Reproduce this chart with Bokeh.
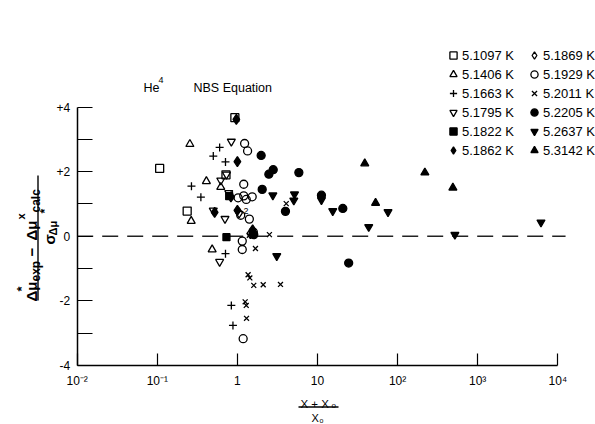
import math
from bokeh.plotting import figure
from bokeh.models import Range1d, FixedTicker, Label, Legend, LegendItem, Arrow
from bokeh.embed import file_html
from bokeh.resources import INLINE

FONT = "Liberation Sans"

# ---------------- data ----------------
x_ticks = [0.01, 0.1, 1, 10, 100, 1000, 10000]
x_tick_labels = ["10\u207b\u00b2", "10\u207b\u00b9", "1", "10", "10\u00b2", "10\u00b3", "10\u2074"]
y_ticks = [-4, -2, 0, 2, 4]
y_minor = [-3, -1, 1, 3]
y_tick_labels = ["-4", "-2", "0", "+2", "+4"]

# dashed zero reference line
zero_x = [0.01, 12500]
zero_y = [0, 0]

temps = ["5.1097 K", "5.1406 K", "5.1663 K", "5.1795 K", "5.1822 K", "5.1862 K",
         "5.1869 K", "5.1929 K", "5.2011 K", "5.2205 K", "5.2637 K", "5.3142 K"]

x_51097 = [0.107, 0.93, 0.72, 0.236]
y_51097 = [2.10, 3.67, 1.90, 0.78]

x_51406 = [0.255, 0.41, 0.62, 0.265, 0.484]
y_51406 = [2.85, 1.70, 1.52, 0.47, -0.41]

x_51663 = [0.60, 0.50, 0.71, 0.267, 0.35, 0.71, 0.84, 0.88]
y_51663 = [2.75, 2.48, 2.30, 1.55, 1.21, -0.54, -2.14, -2.76]

x_51795 = [0.84, 0.73, 0.62, 0.78, 0.50, 0.70, 0.60]
y_51795 = [2.93, 1.91, 1.73, 1.34, 0.80, 0.54, -0.79]

x_51822 = [0.73, 0.79]
y_51822 = [-0.03, 1.24]

x_51862 = [0.97, 1.0, 0.83, 0.52, 1.0, 1.55]
y_51862 = [3.62, 2.31, 1.22, 0.74, 0.80, 0.20]

x_51869 = [1.05, 1.45]
y_51869 = [0.72, 0.08]

x_51929 = [1.23, 1.34, 1.20, 1.02, 1.20, 1.29, 1.53, 1.10, 1.41, 1.58, 1.15, 1.15, 1.18]
y_51929 = [2.87, 2.64, 1.61, 1.19, 1.25, 1.14, 1.22, 0.65, 0.53, 0.13, -0.15, -0.41, -3.17]

x_52011 = [1.41, 2.51, 1.68, 1.36, 1.43, 1.60, 2.10, 3.45, 1.25, 1.29, 1.30, 4.07]
y_52011 = [0.03, 0.05, -0.38, -1.19, -1.29, -1.52, -1.50, -1.49, -2.03, -2.14, -2.54, 1.01]

x_52205 = [1.98, 2.47, 2.80, 5.85, 2.04, 3.98, 11.2, 20.7, 24.5, 1.60]
y_52205 = [2.50, 1.92, 2.06, 1.97, 1.45, 0.77, 1.27, 0.86, -0.83, 0.05]

x_52637 = [2.77, 5.16, 5.06, 11.2, 15.5, 75.9, 43.6, 519, 6166, 3.1]
y_52637 = [1.27, 1.30, 1.11, 1.12, 0.78, 0.75, 0.29, 0.05, 0.43, -0.61]

x_53142 = [38.9, 53.1, 219, 490]
y_53142 = [2.25, 1.03, 1.97, 1.50]

xs = [x_51097, x_51406, x_51663, x_51795, x_51822, x_51862,
      x_51869, x_51929, x_52011, x_52205, x_52637, x_53142]
ys = [y_51097, y_51406, y_51663, y_51795, y_51822, y_51862,
      y_51869, y_51929, y_52011, y_52205, y_52637, y_53142]

# marker style per series: (marker, filled, size)
styles = [("square", False, 8), ("triangle", False, 8), ("cross", False, 8),
          ("inverted_triangle", False, 8), ("square", True, 7), ("diamond", True, 10),
          ("diamond", False, 10), ("circle", False, 8), ("x", False, 7),
          ("circle", True, 8), ("inverted_triangle", True, 8), ("triangle", True, 8)]

# ---------------- figure (frame = whole page; axes pinned inside) ----------------
W, H = 595, 424
X_LO, X_HI = 10 ** -2.9576, 10 ** 4.4707   # log range covering the full page width
Y_LO, Y_HI = -5.826, 7.296                  # linear range covering the full page height

p = figure(width=W, height=H, x_axis_type="log",
           x_range=Range1d(X_LO, X_HI), y_range=Range1d(Y_LO, Y_HI),
           output_backend="svg", toolbar_location=None,
           min_border=0, min_border_left=0, min_border_right=0,
           min_border_top=0, min_border_bottom=0)
p.title.visible = False
p.outline_line_color = None
p.grid.visible = False
p.background_fill_color = "white"
p.border_fill_color = "white"

INK = "#000000"

xa = p.xaxis[0]
xa.fixed_location = -4
xa.bounds = (0.01, 10000)
xa.ticker = FixedTicker(ticks=x_ticks)
xa.major_label_overrides = dict(zip(x_ticks, x_tick_labels))
xa.major_tick_in = 12
xa.major_tick_out = 0
xa.minor_tick_line_color = None
xa.axis_line_width = 1.5
xa.major_tick_line_width = 1.2
xa.axis_line_color = INK
xa.major_tick_line_color = INK
xa.major_label_text_font = FONT
xa.major_label_text_font_size = "12px"
xa.major_label_text_color = INK
xa.major_label_standoff = 9

ya = p.yaxis[0]
ya.fixed_location = 0.01
ya.bounds = (-4, 4)
ya.ticker = FixedTicker(ticks=y_ticks, minor_ticks=y_minor)
ya.major_label_overrides = dict(zip(y_ticks, y_tick_labels))
ya.major_tick_in = 15
ya.major_tick_out = 0
ya.minor_tick_in = 15
ya.minor_tick_out = 0
ya.axis_line_width = 1.5
ya.major_tick_line_width = 1.2
ya.minor_tick_line_width = 1.2
ya.axis_line_color = INK
ya.major_tick_line_color = INK
ya.minor_tick_line_color = INK
ya.major_label_text_font = FONT
ya.major_label_text_font_size = "12px"
ya.major_label_text_color = INK
ya.major_label_standoff = 7

p.line(zero_x, zero_y, line_color="#222222", line_width=1.3, line_dash="16 9")

renderers = []
for x, y, (mk, filled, sz) in zip(xs, ys, styles):
    r = p.scatter(x, y, marker=mk, size=sz, line_color="black", line_width=1.3,
                  fill_color="black" if filled else None)
    renderers.append(r)

# ---------------- legend (two columns) ----------------
def make_legend(idx, left_px):
    items = [LegendItem(label=temps[i], renderers=[renderers[i]]) for i in idx]
    lg = Legend(items=items, location=(left_px, H - 159),
                glyph_width=18, glyph_height=18, label_height=18, label_width=40,
                spacing=1, padding=0, margin=0, label_standoff=0,
                border_line_color=None, background_fill_alpha=0,
                label_text_font=FONT, label_text_font_size="13px",
                label_text_color=INK)
    p.add_layout(lg)

make_legend(range(0, 6), 444)
make_legend(range(6, 12), 525)

# ---------------- texts (page pixel positions) ----------------
def lab(text, X, Y, size, angle=0.0, align="left", baseline="alphabetic", style="normal"):
    p.add_layout(Label(x=X, y=H - Y, x_units="screen", y_units="screen",
                       text=text, angle=angle, text_align=align,
                       text_baseline=baseline, text_font=FONT,
                       text_font_style=style,
                       text_font_size=f"{size}px", text_color=INK))

def seg(X0, Y0, X1, Y1):
    p.add_layout(Arrow(end=None, x_start=X0, y_start=H - Y0,
                       x_end=X1, y_end=H - Y1,
                       start_units="screen", end_units="screen",
                       line_color=INK, line_width=1.4))

lab("He", 143, 87, 12.5)
lab("4", 158, 79, 9)
lab("NBS Equation", 193, 87, 12.5)
lab("2", 243, 210, 9)

# y-axis fraction label (rotated, reading bottom to top)
R = math.pi / 2
B = "bold"
lab("\u0394\u03bc", 31, 301, 15, R, style=B)
lab("*", 21, 291, 13, R, style=B)
lab("exp", 35, 281, 12, R, style=B)
lab("\u2212", 31, 256, 15, R, style=B)
lab("\u0394\u03bc", 31, 240, 15, R, style=B)
lab("x", 20, 219, 11, R, style=B)
lab("calc", 35, 212, 12, R, style=B)
seg(37.5, 300, 37.5, 175)
lab("\u03c3", 49, 244, 15, R, style=B)
lab("\u0394\u03bc", 52, 235, 11, R, style=B)
lab("*", 44, 213, 12, R, style=B)

# x-axis fraction label
lab("X + X", 300, 403, 11.5)
lab("o", 331, 405, 8)
seg(298, 406.5, 338, 406.5)
lab("X", 311, 417, 11)
lab("o", 319, 419.5, 7)

open("out.html", "w").write(file_html(p, INLINE))
